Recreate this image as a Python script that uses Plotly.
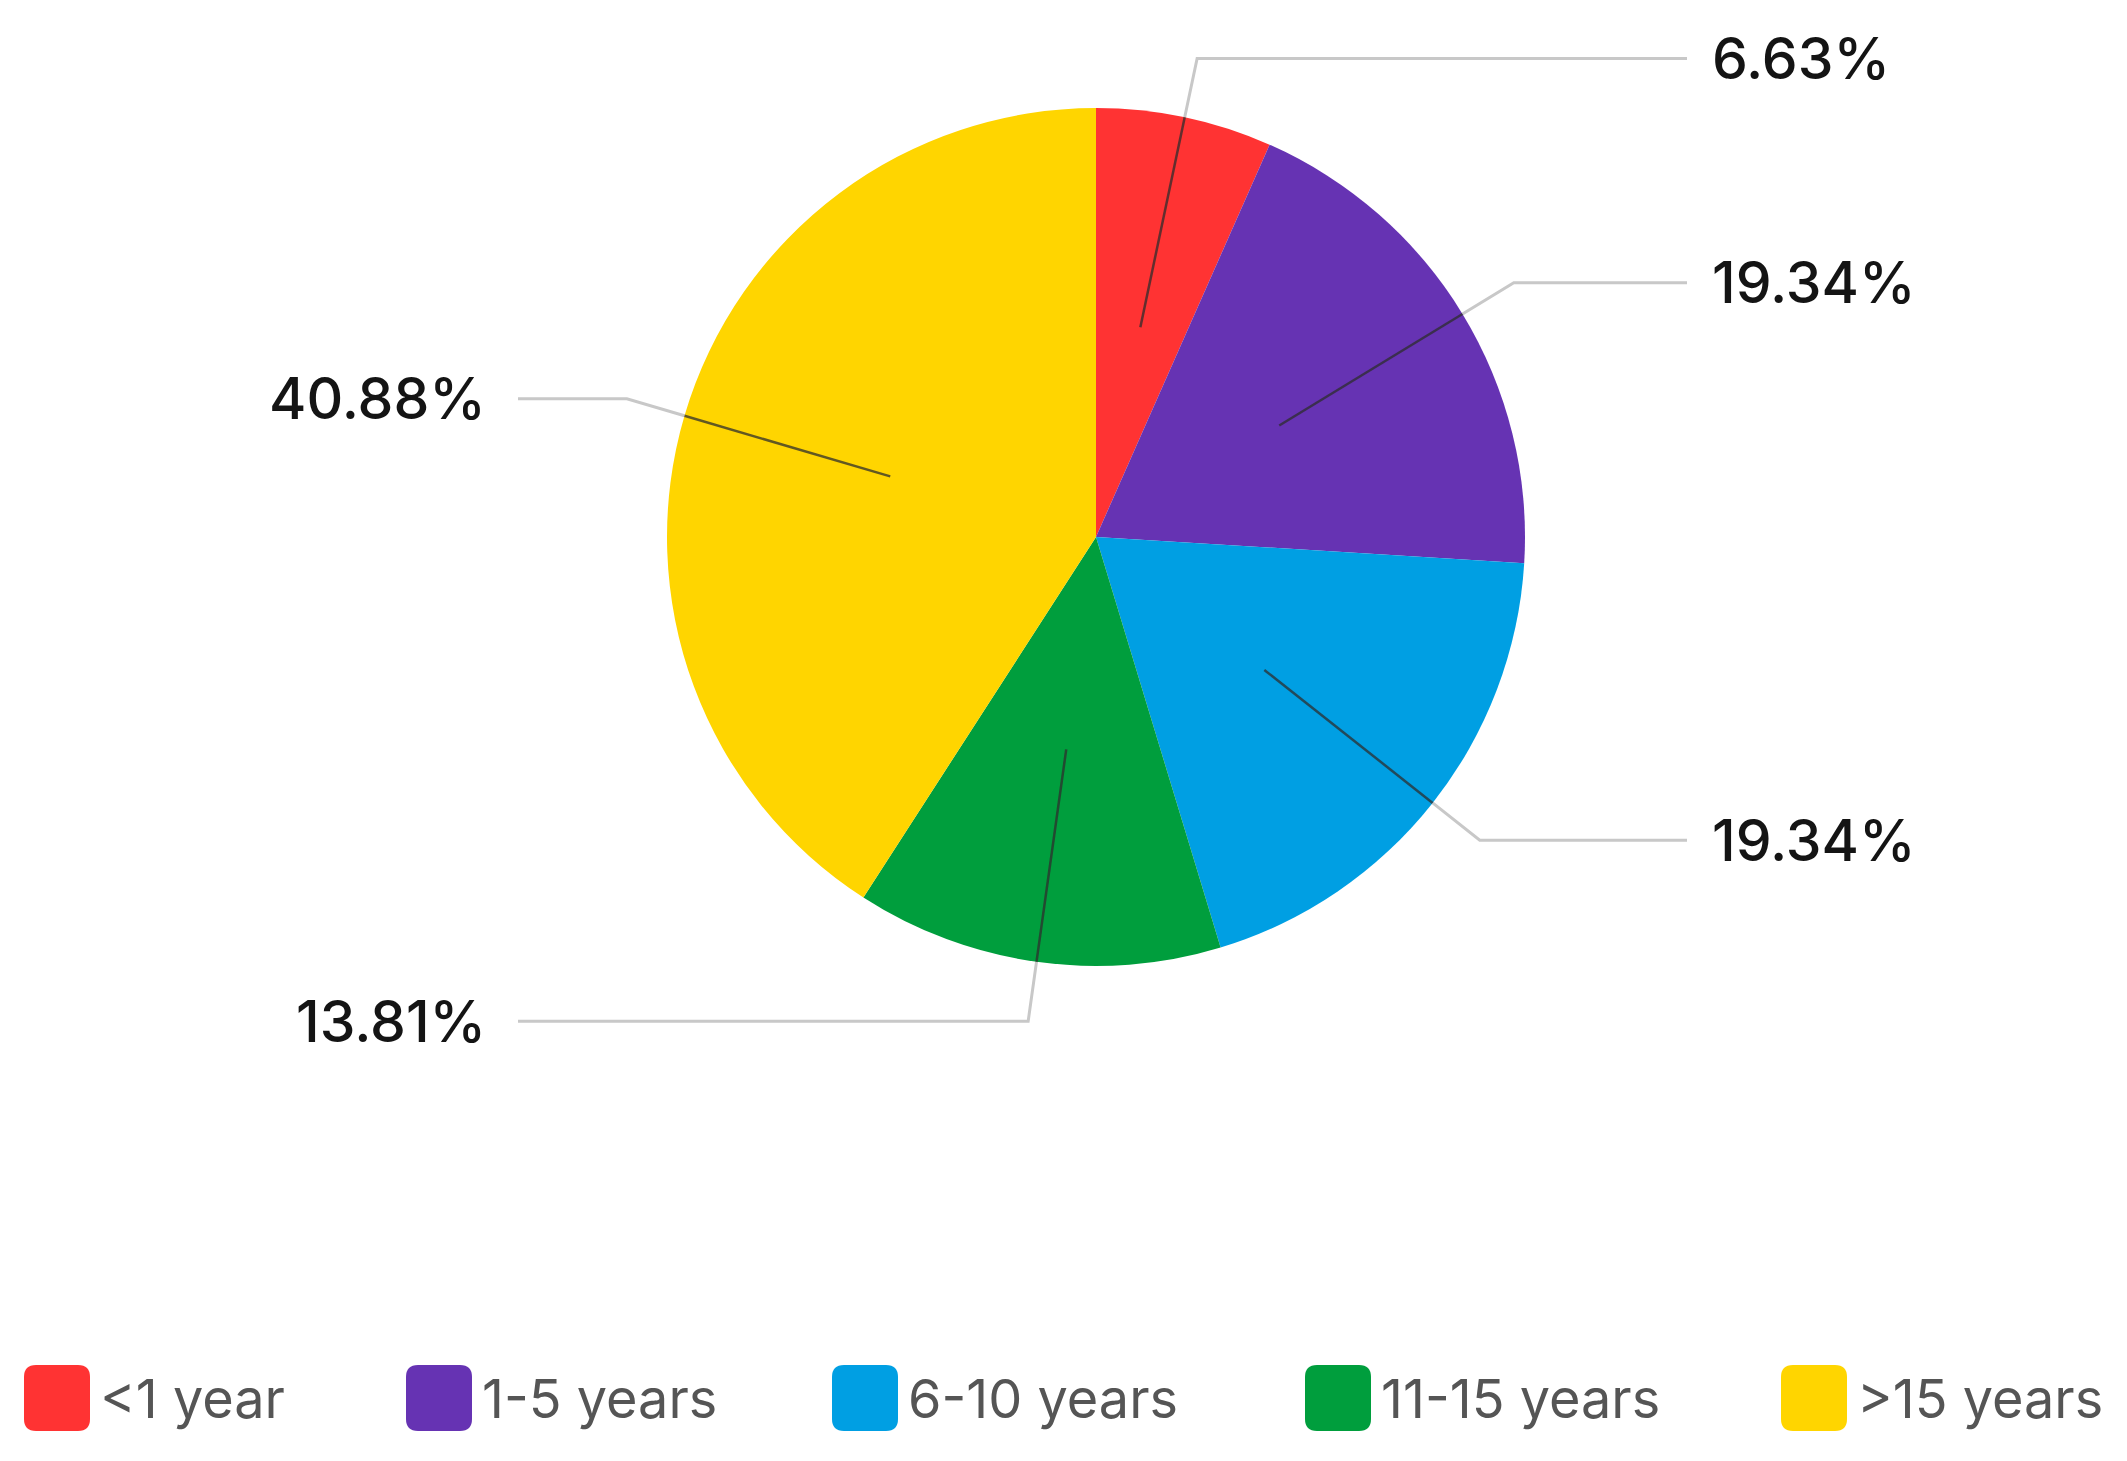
import math
import plotly.graph_objects as go

# ---- data ----
categories = ["<1 year", "1-5 years", "6-10 years", "11-15 years", ">15 years"]
percentages = [6.63, 19.34, 19.34, 13.81, 40.88]
label_texts = ["6.63%", "19.34%", "19.34%", "13.81%", "40.88%"]
colors = ["#FF3333", "#6633B3", "#009FE3", "#009E3D", "#FFD500"]

# ---- geometry (reference pixels) ----
W, H = 2127, 1461
OFF = 8  # page body margin
CX, CY, R = 1096, 537, 429
RIGHT_LINE_END, LEFT_LINE_END = 1687, 518
RIGHT_LABEL_X, LEFT_LABEL_X = 1710, 488
LEGEND_Y = 1398
LEGEND_X = [24, 406, 832, 1305, 1781]
SW = 66
FONT = "Inter, Roboto, Arial, sans-serif"

fig = go.Figure()

fig.add_trace(go.Pie(
    labels=categories, values=percentages, sort=False, direction="clockwise",
    rotation=0, marker=dict(colors=colors, line=dict(width=0)),
    textinfo="none", showlegend=False, hoverinfo="label+percent",
    domain=dict(x=[(CX - R - OFF) / W, (CX + R - OFF) / W],
                y=[1 - (CY + R - OFF) / H, 1 - (CY - R - OFF) / H]),
))

shapes = []
annotations = []
total = sum(percentages)
cum = 0.0
for v, txt in zip(percentages, label_texts):
    theta = math.radians((cum + v / 2) / total * 360)
    cum += v
    s, c = math.sin(theta), -math.cos(theta)
    p1 = (CX + 0.5 * R * s, CY + 0.5 * R * c)
    pe = (CX + R * s, CY + R * c)
    p2 = (CX + 1.14 * R * s, CY + 1.14 * R * c)
    right = s >= 0
    p3 = (RIGHT_LINE_END if right else LEFT_LINE_END, p2[1])
    shapes.append(dict(type="path", xref="x", yref="y", layer="above",
                       path=f"M {pe[0]},{pe[1]} L {p2[0]},{p2[1]} L {p3[0]},{p3[1]}",
                       line=dict(color="#C8C8C8", width=3)))
    shapes.append(dict(type="line", xref="x", yref="y", layer="above",
                       x0=p1[0], y0=p1[1], x1=pe[0], y1=pe[1],
                       line=dict(color="rgba(45,45,45,0.75)", width=2.5)))
    annotations.append(dict(
        x=RIGHT_LABEL_X if right else LEFT_LABEL_X, y=p2[1], xref="x", yref="y",
        text=txt, showarrow=False, xanchor="left" if right else "right", yanchor="middle",
        font=dict(family=FONT, size=57, color="#141414", weight=500),
    ))

# ---- custom legend ----
rr = 12
for x0, col, cat in zip(LEGEND_X, colors, categories):
    x1 = x0 + SW
    y0, y1 = LEGEND_Y - SW / 2, LEGEND_Y + SW / 2
    path = (f"M {x0+rr},{y0} L {x1-rr},{y0} Q {x1},{y0} {x1},{y0+rr} "
            f"L {x1},{y1-rr} Q {x1},{y1} {x1-rr},{y1} L {x0+rr},{y1} "
            f"Q {x0},{y1} {x0},{y1-rr} L {x0},{y0+rr} Q {x0},{y0} {x0+rr},{y0} Z")
    shapes.append(dict(type="path", path=path, xref="x", yref="y",
                       fillcolor=col, line=dict(width=0)))
    annotations.append(dict(
        x=x1 + 8, y=LEGEND_Y, xref="x", yref="y", text=cat, showarrow=False,
        xanchor="left", yanchor="middle",
        font=dict(family=FONT, size=54, color="#555555"),
    ))

fig.update_layout(
    width=W, height=H, margin=dict(l=0, r=0, t=0, b=0),
    paper_bgcolor="white", plot_bgcolor="rgba(0,0,0,0)",
    xaxis=dict(range=[OFF, W + OFF], visible=False, fixedrange=True),
    yaxis=dict(range=[H + OFF, OFF], visible=False, fixedrange=True),
    shapes=shapes, annotations=annotations, showlegend=False,
)

fig.write_html("out.html")
